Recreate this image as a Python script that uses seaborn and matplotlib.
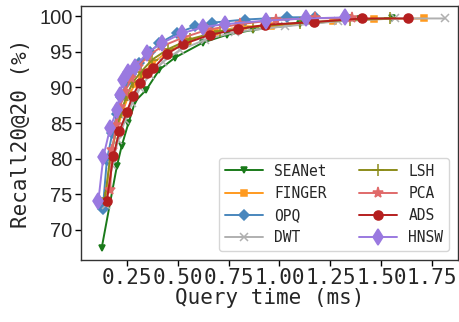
import numpy as np
import pandas as pd
import matplotlib
matplotlib.use("Agg")
import matplotlib.pyplot as plt
import seaborn as sns

methods = ["SEANet", "FINGER", "OPQ", "DWT", "LSH", "PCA", "ADS", "HNSW"]

seanet_x = [0.127, 0.201, 0.225, 0.258, 0.292, 0.345, 0.410, 0.487, 0.623, 0.741, 0.872, 1.101, 1.396, 1.552]
seanet_y = [67.5, 78.9, 81.8, 85.0, 88.1, 89.65, 92.5, 94.2, 96.3, 97.4, 98.1, 98.9, 99.6, 99.7]

finger_x = [0.143, 0.168, 0.197, 0.227, 0.256, 0.291, 0.325, 0.374, 0.448, 0.551, 0.684, 0.821, 0.959, 1.264, 1.465, 1.710]
finger_y = [73.8, 79.8, 83.75, 86.4, 88.7, 90.5, 91.8, 93.3, 95.0, 96.5, 97.8, 98.6, 98.6, 99.3, 99.6, 99.7]

opq_x = [0.132, 0.152, 0.179, 0.202, 0.222, 0.247, 0.271, 0.310, 0.364, 0.410, 0.496, 0.585, 0.667, 0.831, 1.039, 1.175]
opq_y = [72.9, 79.8, 83.6, 86.3, 88.7, 90.6, 91.9, 93.4, 95.0, 96.2, 97.6, 98.6, 99.1, 99.55, 99.85, 99.9]

dwt_x = [0.148, 0.178, 0.207, 0.242, 0.276, 0.315, 0.364, 0.428, 0.512, 0.635, 0.782, 1.027, 1.288, 1.568, 1.813]
dwt_y = [73.5, 79.1, 82.6, 85.4, 87.8, 89.9, 91.8, 93.6, 95.3, 96.7, 97.8, 98.6, 99.3, 99.7, 99.7]

lsh_x = [0.143, 0.168, 0.197, 0.222, 0.251, 0.281, 0.320, 0.374, 0.453, 0.561, 0.708, 0.871, 1.101, 1.346, 1.542]
lsh_y = [74.5, 80.1, 84.0, 86.6, 88.95, 90.8, 92.2, 93.9, 95.4, 96.8, 97.9, 98.5, 99.1, 99.5, 99.7]

pca_x = [0.168, 0.178, 0.197, 0.217, 0.242, 0.271, 0.305, 0.354, 0.423, 0.521, 0.644, 0.806, 0.983, 1.175, 1.357]
pca_y = [75.6, 81.2, 84.7, 87.3, 89.4, 91.3, 92.9, 94.4, 95.8, 96.95, 98.1, 98.9, 99.5, 99.75, 99.7]

ads_x = [0.152, 0.184, 0.214, 0.250, 0.279, 0.315, 0.348, 0.381, 0.446, 0.528, 0.659, 0.798, 0.929, 1.170, 1.404, 1.633]
ads_y = [74.1, 80.4, 83.9, 86.5, 88.85, 90.7, 92.0, 92.7, 94.7, 96.1, 97.4, 98.2, 98.8, 99.2, 99.7, 99.7]

hnsw_x = [0.110, 0.135, 0.168, 0.201, 0.217, 0.230, 0.258, 0.291, 0.351, 0.423, 0.520, 0.626, 0.733, 0.934, 1.131, 1.322]
hnsw_y = [74.0, 80.3, 84.3, 86.8, 88.95, 91.05, 92.2, 92.9, 94.9, 96.25, 97.6, 98.5, 98.9, 99.4, 99.7, 99.85]

xs = [seanet_x, finger_x, opq_x, dwt_x, lsh_x, pca_x, ads_x, hnsw_x]
ys = [seanet_y, finger_y, opq_y, dwt_y, lsh_y, pca_y, ads_y, hnsw_y]

colors = {"SEANet": "#1a7a1a", "FINGER": "#ff9a1f", "OPQ": "#4a87bd", "DWT": "#b0b0b0",
          "LSH": "#8c8c1a", "PCA": "#e06a6a", "ADS": "#b51f1f", "HNSW": "#9a79e0"}
markers = {"SEANet": "v", "FINGER": "s", "OPQ": "D", "DWT": "x",
           "LSH": "+", "PCA": "*", "ADS": "o", "HNSW": "d"}
msizes = {"SEANet": 5, "FINGER": 5, "OPQ": 5, "DWT": 6, "LSH": 8, "PCA": 8, "ADS": 6.5, "HNSW": 8}

sns.set_theme(style="ticks")
plt.rcParams["font.family"] = ["DejaVu Sans Mono"]

fig = plt.figure(figsize=(4.59, 3.22), dpi=100)
ax = fig.add_axes([81 / 459, 1 - 260 / 322, (458 - 81) / 459, (260 - 6) / 322])

for m, x, y in zip(methods, xs, ys):
    df = pd.DataFrame({"Query time (ms)": x, "Recall": y})
    sns.lineplot(data=df, x="Query time (ms)", y="Recall", ax=ax, color=colors[m],
                 marker=markers[m], markersize=msizes[m], markeredgecolor=colors[m],
                 markeredgewidth=1.1, linewidth=1.4, label=m, sort=False)

ax.set_xlim(0.025, 1.877)
ax.set_ylim(65.76, 101.45)
ax.set_xticks([0.25, 0.50, 0.75, 1.00, 1.25, 1.50, 1.75])
ax.set_xticklabels(["0.25", "0.50", "0.75", "1.00", "1.25", "1.50", "1.75"],
                   fontsize=15, family="DejaVu Sans Mono")
ax.set_yticks([70, 75, 80, 85, 90, 95, 100])
ax.set_yticklabels(["70", "75", "80", "85", "90", "95", "100"],
                   fontsize=14.5, family="Liberation Sans")
ax.tick_params(axis="both", length=4, width=1, color="black", pad=2)
ax.set_xlabel("Query time (ms)", fontsize=15, family="DejaVu Sans Mono", labelpad=0)
ax.set_ylabel("Recall20@20 (%)", fontsize=15, family="DejaVu Sans Mono", labelpad=6)
for s in ax.spines.values():
    s.set_color("#333333")
    s.set_linewidth(1.0)

leg = ax.legend(ncol=2, loc="lower right", handlelength=2.6,
                columnspacing=2.2, borderaxespad=0.6, frameon=True,
                prop={"family": "DejaVu Sans Mono", "size": 10.5})
leg.get_frame().set_edgecolor("#cccccc")

fig.savefig("out.png", dpi=100)
